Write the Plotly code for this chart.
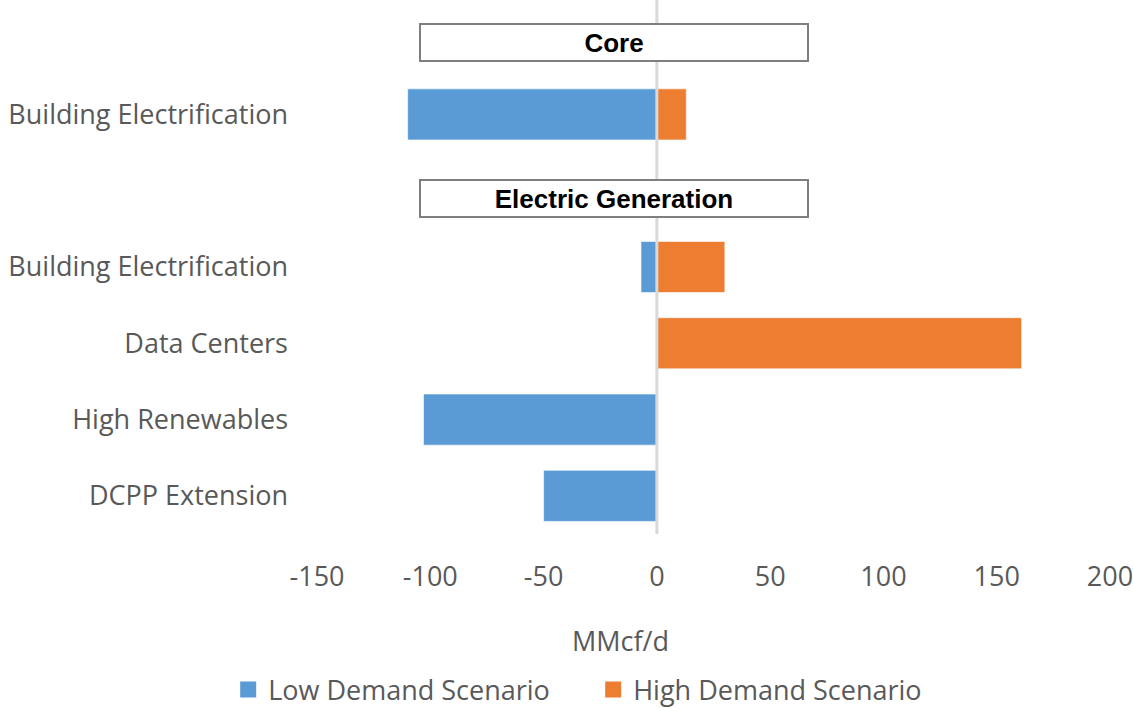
import plotly.graph_objects as go

# Rows from top to bottom: section headers carry no bars
row_keys = ["Core", "Core: Building Electrification", "Electric Generation",
            "EG: Building Electrification", "EG: Data Centers",
            "EG: High Renewables", "EG: DCPP Extension"]
row_labels = ["", "Building Electrification", "",
              "Building Electrification", "Data Centers",
              "High Renewables", "DCPP Extension"]
section_headers = ["Core", "Electric Generation"]

low_demand = [None, -110, None, -7, 0, -103, -50]
high_demand = [None, 13, None, 30, 161, 0, 0]

x_ticks = [-150, -100, -50, 0, 50, 100, 150, 200]
x_tick_labels = ["-150", "-100", "-50", "0", "50", "100", "150", "200"]

BLUE = "#5B9BD5"
ORANGE = "#ED7D31"
GRAY_TEXT = "#595959"
FONT = "Open Sans"
SIZE = 27

fig = go.Figure()
fig.add_trace(go.Bar(
    y=row_keys, x=low_demand, orientation="h", name="Low Demand Scenario",
    marker=dict(color=BLUE, line=dict(color="rgba(255,255,255,0.6)", width=1)),
    width=0.67, showlegend=False))
fig.add_trace(go.Bar(
    y=row_keys, x=high_demand, orientation="h", name="High Demand Scenario",
    marker=dict(color=ORANGE, line=dict(color="rgba(255,255,255,0.6)", width=1)),
    width=0.67, showlegend=False))

# legend entries with larger square swatches
for name, color in [("Low Demand Scenario", BLUE), ("High Demand Scenario", ORANGE)]:
    fig.add_trace(go.Scatter(
        x=[None], y=[None], mode="markers", name=name,
        marker=dict(symbol="square", size=16, color=color, line=dict(width=0))))

# vertical axis line at zero, drawn over the bars
fig.add_shape(type="line", xref="x", yref="paper", x0=0, x1=0, y0=0, y1=1,
              line=dict(color="#D9D9D9", width=3), layer="above")

# section header boxes
for header, row, shift in [(section_headers[0], 0, -4), (section_headers[1], 2, -8)]:
    fig.add_annotation(
        x=-19, y=row, xref="x", yref="y", yshift=shift, text=f"<b>{header}</b>",
        showarrow=False, width=386, height=35, borderpad=0,
        bordercolor="#7F7F7F", borderwidth=2, bgcolor="white",
        font=dict(family="Liberation Sans, Arial", size=26, color="black"))

fig.add_annotation(
    text="MMcf/d", xref="paper", yref="paper", x=0.383, y=-0.2,
    xanchor="center", yanchor="middle", showarrow=False,
    font=dict(family=FONT, size=SIZE, color=GRAY_TEXT))

fig.update_layout(
    width=1133, height=711,
    margin=dict(l=317, r=23, t=0, b=177, autoexpand=False),
    plot_bgcolor="white", paper_bgcolor="white",
    barmode="overlay",
    font=dict(family=FONT, size=SIZE, color=GRAY_TEXT),
    xaxis=dict(range=[-150, 200], tickvals=x_ticks, ticktext=x_tick_labels,
               showgrid=False, zeroline=False, showline=False, ticks="",
               ticklabelstandoff=24, ticklabeloverflow="allow",
               tickfont=dict(size=SIZE, color=GRAY_TEXT)),
    yaxis=dict(type="category", categoryorder="array", categoryarray=row_keys,
               tickvals=row_keys, ticktext=row_labels,
               range=[len(row_keys) - 0.5, -0.5], showgrid=False,
               zeroline=False, showline=False, ticks="", ticklabelstandoff=28,
               tickfont=dict(size=SIZE, color=GRAY_TEXT)),
    legend=dict(orientation="h", x=-0.112, xanchor="left", y=-0.292,
                yanchor="middle", font=dict(size=SIZE, color=GRAY_TEXT),
                itemwidth=30, entrywidth=320, entrywidthmode="pixels",
                bgcolor="rgba(0,0,0,0)"),
)

fig.write_html("out.html")
